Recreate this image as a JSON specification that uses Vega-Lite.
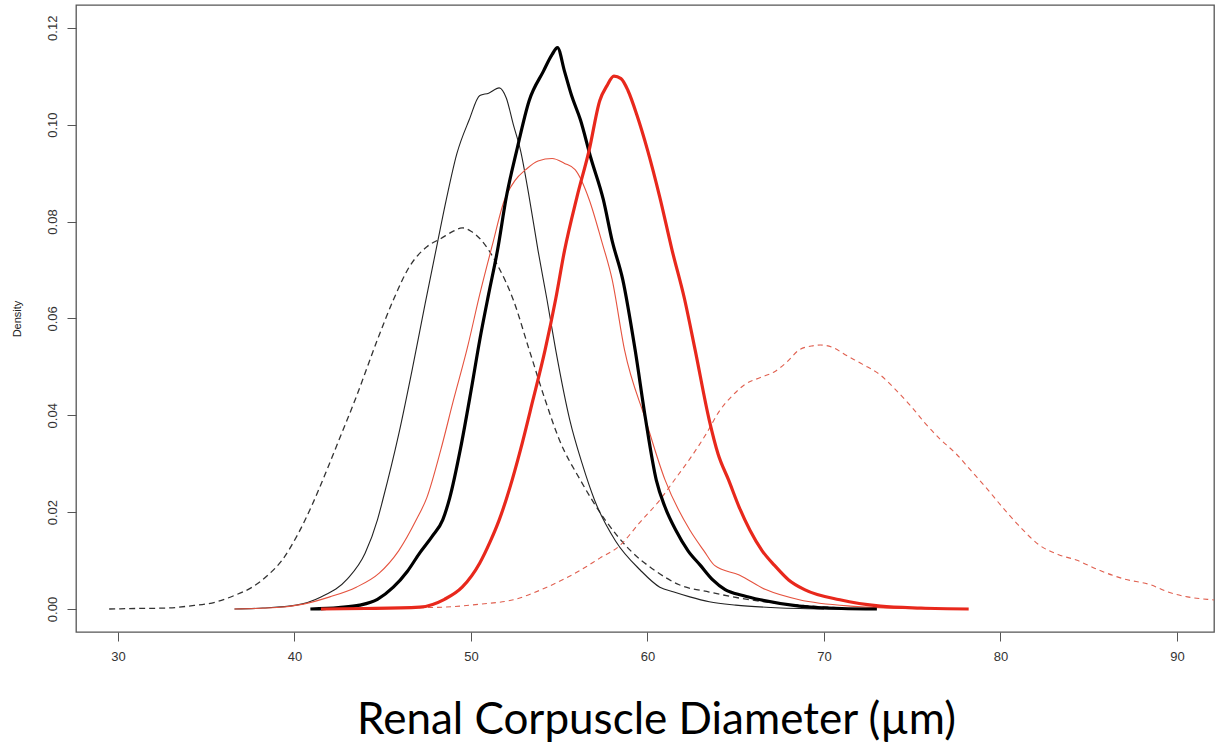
{
  "$schema": "https://vega.github.io/schema/vega-lite/v6.json",
  "width": 1138,
  "height": 627,
  "autosize": {"type": "none"},
  "padding": {"left": 76, "top": 5, "right": 3, "bottom": 116},
  "background": "white",
  "config": {"view": {"stroke": "#555", "strokeWidth": 1.3}},
  "datasets": {
    "bd": [[29.5,0],[31,0.0001],[32.8,0.0002],[34,0.0006],[35.6,0.0015],[36.6,0.0028],[37.6,0.0045],[38.5,0.007],[39.3,0.0101],[40.2,0.0155],[41.0,0.0215],[41.7,0.0275],[42.4,0.0338],[43.5,0.0438],[44.7,0.0556],[45.6,0.0638],[46.5,0.0706],[47.5,0.0748],[48.3,0.0765],[49.0,0.078],[49.5,0.0787],[50.0,0.078],[50.5,0.0765],[51.5,0.071],[52.4,0.0638],[53.3,0.0535],[54.2,0.0432],[55.0,0.035],[56.2,0.0266],[57.6,0.0184],[59.0,0.0122],[60.4,0.008],[61.8,0.005],[63.5,0.0035],[65.8,0.0019],[68.6,0.0008],[71,0.0002]],
    "bt": [[36.6,0],[38.2,0.0002],[40.1,0.0008],[41.5,0.0025],[43.0,0.0062],[44.0,0.0115],[44.7,0.0184],[45.0,0.0225],[45.9,0.036],[46.7,0.05],[47.4,0.063],[48.1,0.0756],[48.6,0.0845],[49.2,0.094],[49.9,0.101],[50.5,0.106],[51.0,0.1065],[51.6,0.1076],[52.0,0.1055],[52.4,0.1],[52.8,0.0948],[53.3,0.085],[53.8,0.074],[54.3,0.064],[54.8,0.0535],[55.6,0.039],[56.3,0.03],[57.0,0.0225],[58.2,0.014],[59.6,0.008],[60.7,0.0045],[61.5,0.0035],[62.4,0.0025],[63.5,0.0015],[65,0.0008],[67,0.0003],[70,0]],
    "rt": [[36.6,0],[39,0.0003],[40.5,0.001],[42.0,0.0025],[43.5,0.0045],[44.8,0.0074],[45.9,0.012],[46.9,0.0184],[47.5,0.023],[48.3,0.033],[49.0,0.043],[49.8,0.054],[50.5,0.065],[51.2,0.075],[51.9,0.0845],[52.5,0.0885],[53.1,0.0907],[53.8,0.0925],[54.6,0.093],[55.3,0.092],[55.9,0.0907],[56.7,0.0845],[57.4,0.076],[58.0,0.068],[58.7,0.0535],[59.9,0.039],[61.0,0.0266],[62.4,0.0163],[63.2,0.012],[63.8,0.009],[65.2,0.007],[66.7,0.004],[68.6,0.0019],[71.5,0.0006],[76,0]],
    "bk": [[40.9,0],[42.5,0.0003],[43.7,0.0008],[44.7,0.002],[45.6,0.0045],[46.4,0.0078],[47.1,0.0116],[47.8,0.015],[48.4,0.0184],[48.8,0.023],[49.4,0.033],[50.0,0.045],[50.5,0.0556],[51.0,0.065],[51.5,0.074],[52.0,0.085],[52.6,0.0948],[53.3,0.105],[54.1,0.111],[54.6,0.1145],[54.9,0.1159],[55.3,0.111],[55.7,0.106],[56.2,0.101],[56.8,0.093],[57.5,0.0845],[58.0,0.076],[58.6,0.068],[59.3,0.0535],[59.9,0.039],[60.5,0.0266],[61.0,0.021],[61.6,0.0163],[62.3,0.012],[63.0,0.009],[63.7,0.006],[64.4,0.004],[65.4,0.0028],[66.4,0.0019],[68.6,0.0006],[71,0.0001],[73,0]],
    "rk": [[41.5,0],[44,0.0001],[47.1,0.0004],[48.5,0.002],[49.5,0.0045],[50.5,0.0095],[51.1,0.014],[51.6,0.0184],[52.2,0.025],[52.8,0.0328],[53.5,0.043],[54.2,0.0535],[54.8,0.064],[55.3,0.074],[56.0,0.085],[56.7,0.0948],[57.3,0.105],[57.7,0.108],[58.1,0.11],[58.5,0.1095],[58.9,0.107],[59.4,0.102],[60.0,0.0948],[60.7,0.085],[61.4,0.074],[62.1,0.064],[62.7,0.0535],[63.5,0.039],[64.0,0.032],[64.6,0.0266],[65.2,0.021],[65.8,0.0163],[66.5,0.012],[67.2,0.009],[68.0,0.006],[68.9,0.004],[70.9,0.0019],[73.2,0.0006],[75.5,0.0002],[78.2,0]],
    "rd": [[44,0],[46,0.0002],[48.6,0.0004],[50.5,0.001],[52.4,0.0019],[54.3,0.0045],[56.2,0.008],[57.3,0.0105],[58.4,0.013],[59.6,0.018],[60.7,0.0225],[61.6,0.027],[62.4,0.031],[63.3,0.036],[64.1,0.041],[64.8,0.044],[65.5,0.0463],[66.4,0.0478],[67.2,0.049],[67.9,0.051],[68.6,0.0535],[69.3,0.0543],[69.8,0.0545],[70.5,0.054],[71.2,0.0525],[72.2,0.0505],[73.2,0.0483],[74.0,0.0455],[74.9,0.042],[75.7,0.0385],[76.6,0.035],[77.5,0.032],[78.3,0.0287],[79.2,0.025],[80.0,0.0215],[81.1,0.017],[82.2,0.0132],[83.3,0.0112],[84.3,0.0101],[85.6,0.008],[87.0,0.0062],[88.5,0.005],[89.5,0.0035],[90.6,0.0025],[92.0,0.0019],[92.3,0.0018]]
  },
  "encoding": {
    "x": {
      "field": "0", "type": "quantitative",
      "scale": {"domain": [27.62, 92.1], "nice": false, "zero": false},
      "axis": {
        "values": [30, 40, 50, 60, 70, 80, 90],
        "domain": false, "grid": false,
        "tickSize": 9, "tickColor": "#555", "tickWidth": 1,
        "labelFont": "Liberation Sans", "labelFontSize": 13, "labelColor": "#333", "labelPadding": 9,
        "title": "Renal Corpuscle Diameter (µm)",
        "titleFont": "Lato", "titleFontSize": 44, "titleFontWeight": "normal", "titleColor": "#000",
        "titleX": 580, "titleY": 101, "titleAlign": "center", "titleBaseline": "alphabetic"
      }
    },
    "y": {
      "field": "1", "type": "quantitative",
      "scale": {"domain": [-0.00475, 0.1247], "nice": false, "zero": false},
      "axis": {
        "values": [0, 0.02, 0.04, 0.06, 0.08, 0.1, 0.12],
        "format": ".2f",
        "domain": false, "grid": false,
        "tickSize": 9, "tickColor": "#555", "tickWidth": 1,
        "labelFont": "Liberation Sans", "labelFontSize": 13, "labelColor": "#333",
        "labelAngle": -90, "labelAlign": "center", "labelBaseline": "middle", "labelPadding": 15,
        "title": "Density", "titleFont": "Liberation Sans", "titleFontSize": 11, "titleFontWeight": "normal", "titleColor": "#222",
        "titlePadding": 24
      }
    }
  },
  "layer": [
    {"data": {"name": "bd"}, "mark": {"type": "line", "clip": true, "interpolate": "monotone", "color": "#333", "strokeWidth": 1.3, "strokeDash": [6, 4]}},
    {"data": {"name": "rd"}, "mark": {"type": "line", "clip": true, "interpolate": "monotone", "color": "#e06050", "strokeWidth": 1.1, "strokeDash": [5, 4]}},
    {"data": {"name": "bt"}, "mark": {"type": "line", "clip": true, "interpolate": "monotone", "color": "#222", "strokeWidth": 1.1}},
    {"data": {"name": "rt"}, "mark": {"type": "line", "clip": true, "interpolate": "monotone", "color": "#e5533f", "strokeWidth": 1.1}},
    {"data": {"name": "bk"}, "mark": {"type": "line", "clip": true, "interpolate": "monotone", "color": "#000", "strokeWidth": 3.2}},
    {"data": {"name": "rk"}, "mark": {"type": "line", "clip": true, "interpolate": "monotone", "color": "#e8281c", "strokeWidth": 3.2}}
  ]
}
